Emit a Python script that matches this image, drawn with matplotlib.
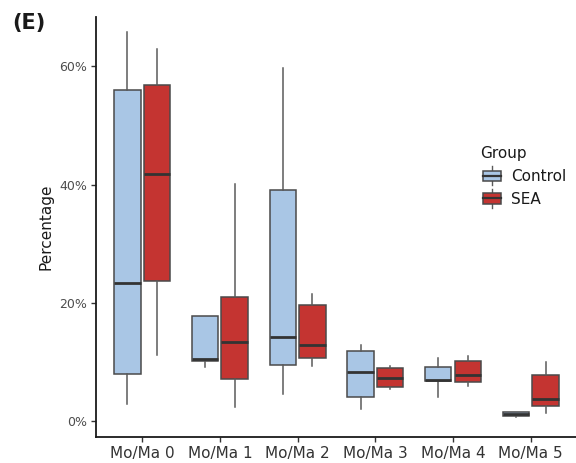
import matplotlib
matplotlib.use("Agg")
import matplotlib.pyplot as plt
from matplotlib.legend_handler import HandlerBase
from matplotlib.patches import Rectangle, Patch
from matplotlib.lines import Line2D
from matplotlib.ticker import FuncFormatter

categories = ["Mo/Ma 0", "Mo/Ma 1", "Mo/Ma 2", "Mo/Ma 3", "Mo/Ma 4", "Mo/Ma 5"]
groups = ["Control", "SEA"]

# Box summaries (percent): lower whisker, Q1, median, Q3, upper whisker
ctrl_low = [2.9, 9.2, 4.6, 2.1, 4.1, 0.8]
ctrl_q1 = [8.1, 10.3, 9.5, 4.2, 6.8, 1.0]
ctrl_med = [23.4, 10.6, 14.3, 8.4, 7.0, 1.3]
ctrl_q3 = [56.0, 17.9, 39.1, 11.9, 9.2, 1.55]
ctrl_high = [65.8, 17.9, 59.7, 13.0, 10.8, 1.55]

sea_low = [11.2, 2.5, 9.4, 5.5, 6.0, 1.4]
sea_q1 = [23.7, 7.2, 10.7, 5.9, 6.7, 2.7]
sea_med = [41.8, 13.5, 12.9, 7.3, 7.9, 3.75]
sea_q3 = [56.8, 21.1, 19.6, 9.0, 10.3, 7.9]
sea_high = [63.0, 40.1, 21.5, 9.3, 11.1, 10.0]

colors = {"Control": "#A9C6E5", "SEA": "#C43431"}
edge = "#4A4A4A"
whisk = "#5A5A5A"
median_c = "#333333"


def stats(low, q1, med, q3, high):
    return [dict(whislo=a, q1=b, med=c, q3=d, whishi=e, fliers=[])
            for a, b, c, d, e in zip(low, q1, med, q3, high)]


fig = plt.figure(figsize=(5.76, 4.63), dpi=100)
ax = fig.add_axes([95.5 / 576, 1 - 436.7 / 463, (577.4 - 95.5) / 576, (436.7 - 16.7) / 463])

offset, width = 0.19, 0.34
series = {
    "Control": stats(ctrl_low, ctrl_q1, ctrl_med, ctrl_q3, ctrl_high),
    "SEA": stats(sea_low, sea_q1, sea_med, sea_q3, sea_high),
}
for g, sign in zip(groups, (-1, 1)):
    pos = [i + 1 + sign * offset for i in range(len(categories))]
    ax.bxp(series[g], positions=pos, widths=width, patch_artist=True,
           showcaps=False, showfliers=False,
           boxprops=dict(facecolor=colors[g], edgecolor=edge, linewidth=1.1),
           whiskerprops=dict(color=whisk, linewidth=1.1),
           medianprops=dict(color=median_c, linewidth=2.0, solid_capstyle="butt"))

ax.set_xlim(0.4, 6.6)
ax.set_ylim(-2.57, 68.4)
ax.set_xticks(range(1, len(categories) + 1))
ax.set_xticklabels(categories)
ax.set_yticks([0, 20, 40, 60])
ax.yaxis.set_major_formatter(FuncFormatter(lambda v, p: f"{v:.0f}%"))

for s in ("top", "right"):
    ax.spines[s].set_visible(False)
for s in ("left", "bottom"):
    ax.spines[s].set_color("#1a1a1a")
    ax.spines[s].set_linewidth(1.3)
ax.tick_params(axis="both", length=3.8, width=1.0, color="#333333")
ax.tick_params(axis="x", labelsize=11, labelcolor="#333333", pad=3)
ax.tick_params(axis="y", labelsize=9, labelcolor="#4D4D4D", pad=2.5)
ax.set_ylabel("Percentage", fontsize=11, color="#1a1a1a", labelpad=4)
ax.set_facecolor("white")


class BoxKeyHandler(HandlerBase):
    def create_artists(self, legend, orig, xd, yd, w, h, fontsize, trans):
        fc = orig.get_facecolor()
        bw = w * 0.74
        x0 = -xd + (w - bw) / 2
        cx = -xd + w / 2
        y = -yd
        b0, b1 = y + h * 0.12, y + h * 0.88
        box = Rectangle((x0, b0), bw, b1 - b0, facecolor=fc,
                        edgecolor=edge, linewidth=1.1, transform=trans)
        med = Line2D([x0, x0 + bw], [y + h * 0.5] * 2, color=median_c,
                     linewidth=1.6, transform=trans)
        up = Line2D([cx, cx], [b1, y + h * 1.18], color=whisk,
                    linewidth=1.0, transform=trans)
        lo = Line2D([cx, cx], [y - h * 0.18, b0], color=whisk,
                    linewidth=1.0, transform=trans)
        return [up, lo, box, med]


handles = [Patch(facecolor=colors[g], label=g) for g in groups]
leg = fig.legend(handles=handles, labels=groups, title="Group",
                 loc="upper left", bbox_to_anchor=(468 / 576, 1 - 134 / 463),
                 frameon=False, fontsize=11, title_fontsize=11,
                 handler_map={Patch: BoxKeyHandler()},
                 handlelength=1.6, handleheight=1.0, handletextpad=0.42,
                 labelspacing=0.5, borderpad=0.3, alignment="left")
for t in leg.get_texts():
    t.set_color("#1a1a1a")
leg.get_title().set_color("#1a1a1a")

fig.text(12 / 576, 1 - 23 / 463, "(E)", fontsize=15, fontweight="bold",
         va="center", ha="left", color="#1a1a1a")

fig.savefig("out.png", dpi=100, facecolor="white")
